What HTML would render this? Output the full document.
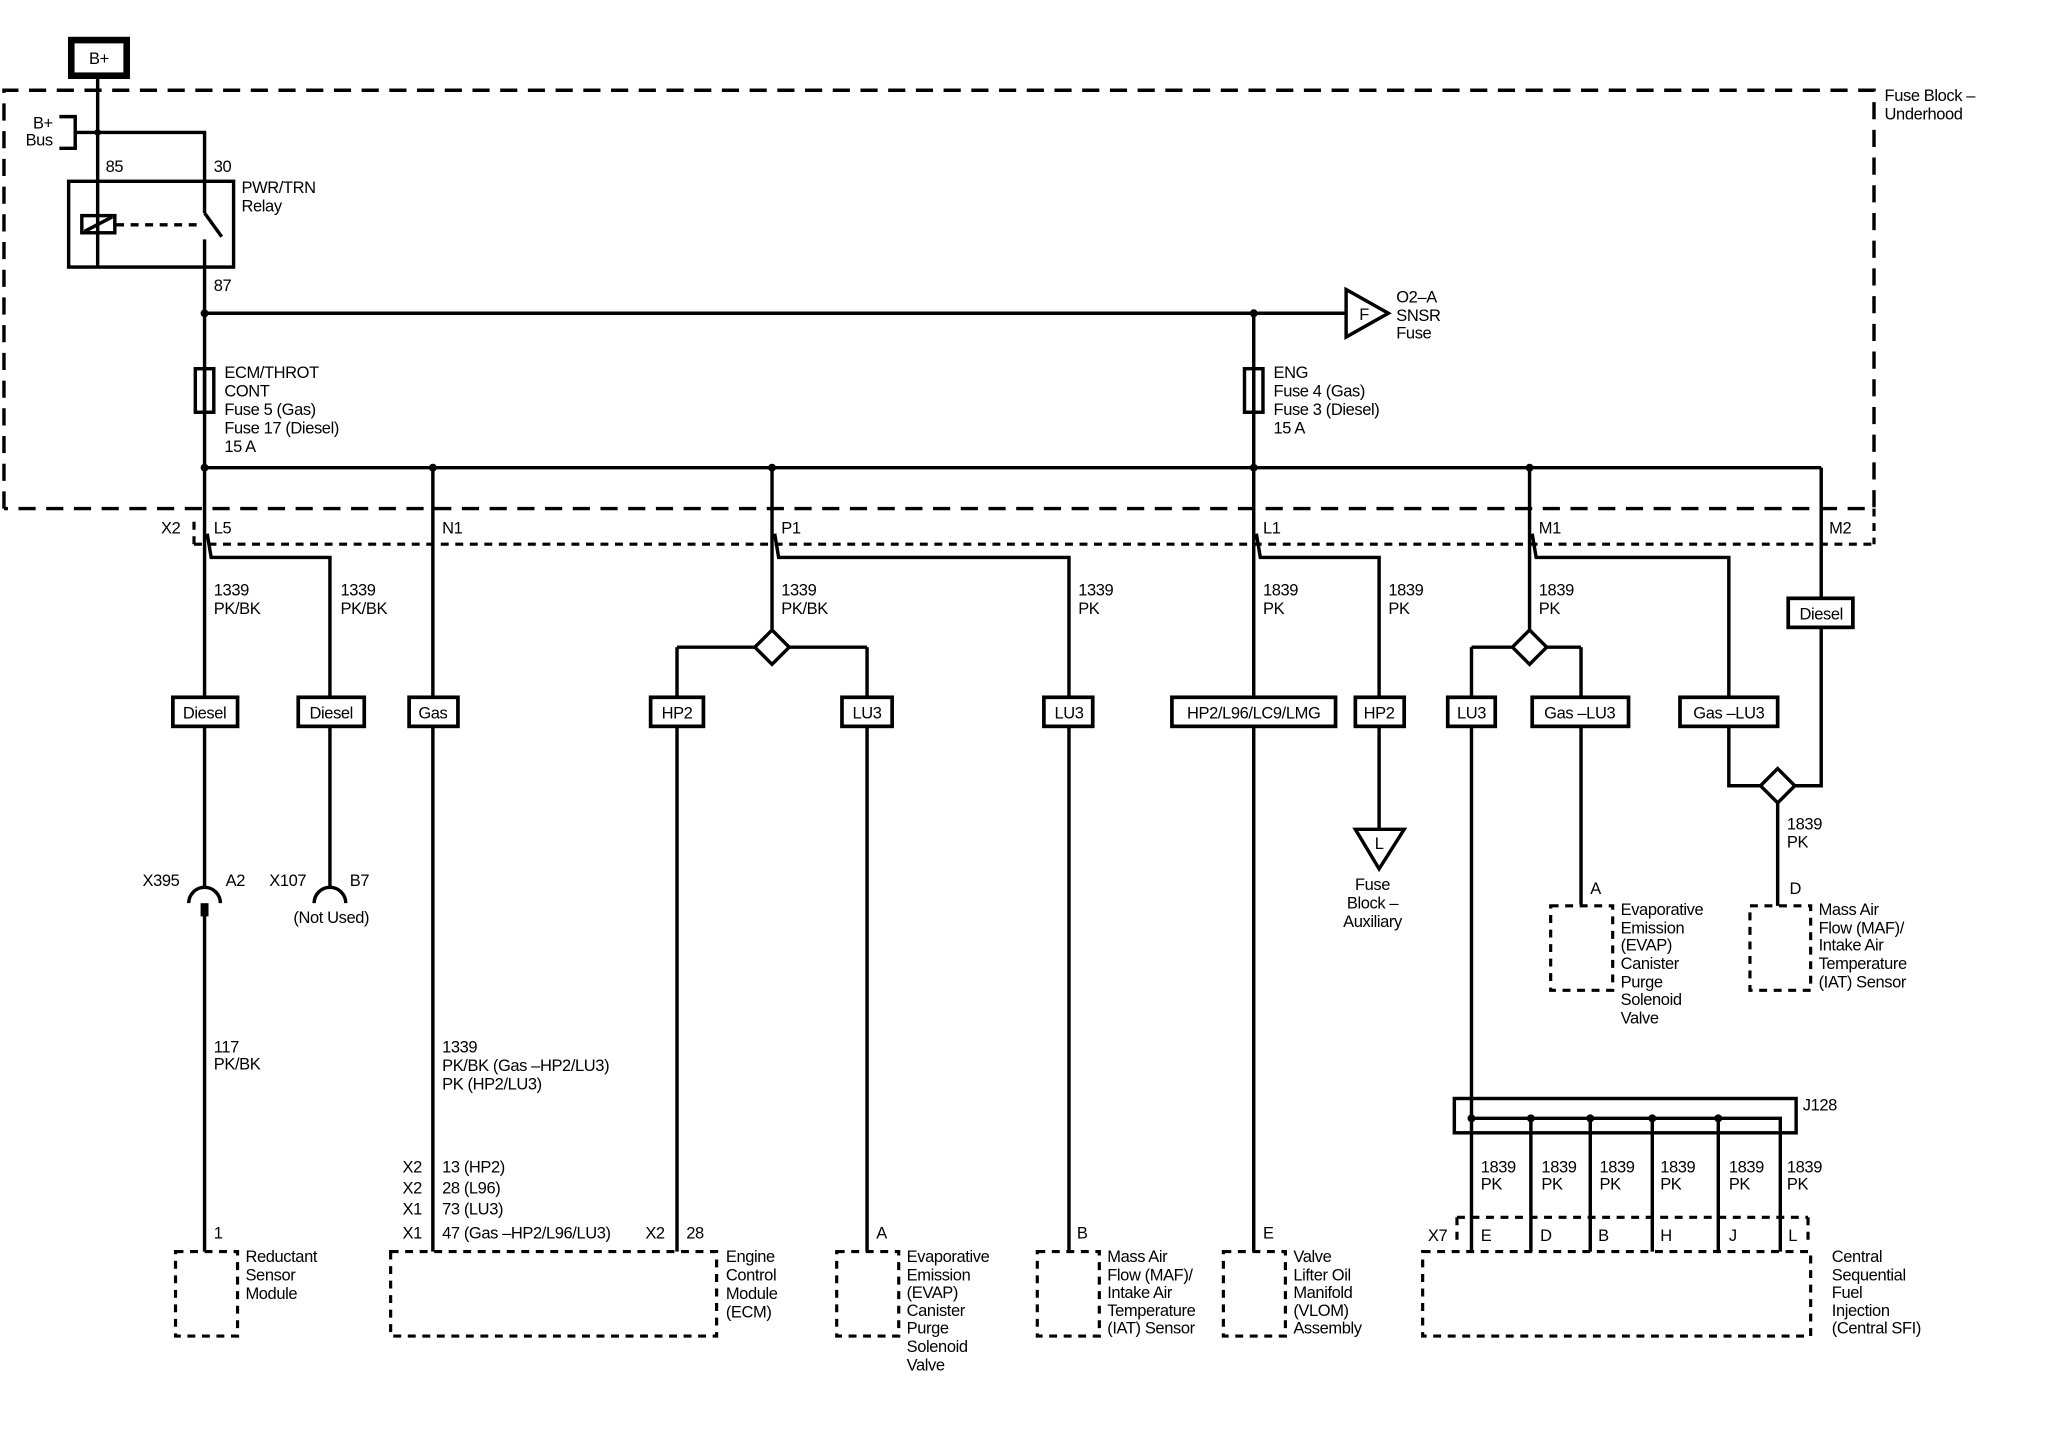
<!DOCTYPE html>
<html><head><meta charset="utf-8"><style>
html,body{margin:0;padding:0;background:#fff}
svg{display:block}
text{font-family:"Liberation Sans",sans-serif;font-size:12.5px;fill:#000;letter-spacing:-0.3px}
.w{stroke:#000;stroke-width:2.6;fill:none}
.d{stroke:#000;stroke-width:2.6;fill:none;stroke-dasharray:13 8}
.ds{stroke:#000;stroke-width:2.4;fill:none;stroke-dasharray:6 5}
.b{stroke:#000;stroke-width:2.8;fill:#fff}
</style></head><body>
<svg width="2068" height="1454" viewBox="0 0 1567 1101" xmlns="http://www.w3.org/2000/svg">
<rect x="54" y="30" width="42" height="27" fill="#fff" stroke="#000" stroke-width="5"/>
<text x="75" y="48" text-anchor="middle">B+</text>
<path class="d" d="M3 385 V68 H1420 V385 H3"/>
<text x="1428" y="76">Fuse Block –</text><text x="1428" y="90">Underhood</text>
<path class="w" d="M45 88 H57 V112 H45"/>
<text x="40" y="97" text-anchor="end">B+</text><text x="40" y="110" text-anchor="end">Bus</text>
<path class="w" d="M74 57 V202 M57 100 H155 V161 M155 161 L168 179 M155 181 V354"/>
<circle cx="74" cy="100" r="2.5"/>
<rect class="w" x="52" y="137" width="125" height="65"/>
<rect class="w" x="62" y="163" width="25" height="13" fill="#fff"/>
<path class="w" d="M64 175 L85 164"/>
<path class="w" stroke-dasharray="6 5" d="M88 170 H153"/>
<text x="80" y="130">85</text><text x="162" y="130">30</text>
<text x="183" y="146">PWR/TRN</text><text x="183" y="160">Relay</text>
<text x="162" y="220">87</text>
<path class="w" d="M155 237 H1020"/>
<circle cx="155" cy="237" r="3"/><circle cx="950" cy="237" r="3"/>
<path class="w" fill="#fff" d="M1020 219 L1052 237 L1020 255 Z"/>
<text x="1030" y="242" font-size="12">F</text>
<text x="1058" y="229">O2–A</text><text x="1058" y="243">SNSR</text><text x="1058" y="256">Fuse</text>
<path class="w" d="M950 237 V354"/>
<rect class="w" x="148" y="279" width="14" height="33" fill="#fff"/><path class="w" d="M155 279 V312"/>
<rect class="w" x="943" y="279" width="14" height="33" fill="#fff"/><path class="w" d="M950 279 V312"/>
<text x="170" y="286">ECM/THROT</text><text x="170" y="300">CONT</text><text x="170" y="314">Fuse 5 (Gas)</text><text x="170" y="328">Fuse 17 (Diesel)</text><text x="170" y="342">15 A</text>
<text x="965" y="286">ENG</text><text x="965" y="300">Fuse 4 (Gas)</text><text x="965" y="314">Fuse 3 (Diesel)</text><text x="965" y="328">15 A</text>
<path class="w" d="M155 354 H1380"/>
<circle cx="155" cy="354" r="3"/><circle cx="328" cy="354" r="3"/><circle cx="585" cy="354" r="3"/><circle cx="950" cy="354" r="3"/><circle cx="1159" cy="354" r="3"/>
<path class="ds" d="M147 412 H1420 M1420 385 V412 M147 395 V412"/>
<text x="122" y="404">X2</text>
<text x="162" y="404">L5</text><text x="335" y="404">N1</text><text x="592" y="404">P1</text><text x="957" y="404">L1</text><text x="1166" y="404">M1</text><text x="1386" y="404">M2</text>
<path class="w" d="M155 354 V672 M157 404 L160 422 H250 V672 M155 692 V948"/>
<text x="162" y="451">1339</text><text x="162" y="465">PK/BK</text>
<text x="258" y="451">1339</text><text x="258" y="465">PK/BK</text>
<rect class="b" x="131" y="528" width="49" height="22"/><text x="155" y="544" text-anchor="middle">Diesel</text>
<rect class="b" x="226" y="528" width="50" height="22"/><text x="251" y="544" text-anchor="middle">Diesel</text>
<path class="w" d="M143 684 A12 12 0 0 1 167 684"/><rect x="152" y="684" width="6" height="10"/>
<path class="w" d="M238 684 A12 12 0 0 1 262 684"/>
<text x="108" y="671">X395</text><text x="171" y="671">A2</text>
<text x="204" y="671">X107</text><text x="265" y="671">B7</text>
<text x="251" y="699" text-anchor="middle">(Not Used)</text>
<text x="162" y="797">117</text><text x="162" y="810">PK/BK</text>
<text x="162" y="938">1</text>
<rect class="ds" x="133" y="948" width="47" height="64"/>
<text x="186" y="956">Reductant</text><text x="186" y="970">Sensor</text><text x="186" y="984">Module</text>
<path class="w" d="M328 354 V948"/>
<rect class="b" x="310" y="528" width="37" height="22"/><text x="328" y="544" text-anchor="middle">Gas</text>
<text x="335" y="797">1339</text><text x="335" y="811">PK/BK (Gas –HP2/LU3)</text><text x="335" y="825">PK (HP2/LU3)</text>
<text x="305" y="888">X2</text><text x="335" y="888">13 (HP2)</text>
<text x="305" y="904">X2</text><text x="335" y="904">28 (L96)</text>
<text x="305" y="920">X1</text><text x="335" y="920">73 (LU3)</text>
<text x="305" y="938">X1</text><text x="335" y="938">47 (Gas –HP2/L96/LU3)</text>
<text x="489" y="938">X2</text><text x="520" y="938">28</text>
<rect class="ds" x="296" y="948" width="247" height="64"/>
<text x="550" y="956">Engine</text><text x="550" y="970">Control</text><text x="550" y="984">Module</text><text x="550" y="998">(ECM)</text>
<path class="w" d="M585 354 V478 M587 404 L590 422 H810 V948 M513 490 H573 M597 490 H657 M513 490 V948 M657 490 V948"/>
<path class="w" fill="#fff" d="M585 477 L598 490 L585 503 L572 490 Z"/>
<text x="592" y="451">1339</text><text x="592" y="465">PK/BK</text>
<text x="817" y="451">1339</text><text x="817" y="465">PK</text>
<rect class="b" x="493" y="528" width="40" height="22"/><text x="513" y="544" text-anchor="middle">HP2</text>
<rect class="b" x="638" y="528" width="38" height="22"/><text x="657" y="544" text-anchor="middle">LU3</text>
<rect class="b" x="791" y="528" width="37" height="22"/><text x="810" y="544" text-anchor="middle">LU3</text>
<text x="664" y="938">A</text>
<rect class="ds" x="634" y="948" width="47" height="64"/>
<text x="687" y="956">Evaporative</text><text x="687" y="970">Emission</text><text x="687" y="983">(EVAP)</text><text x="687" y="997">Canister</text><text x="687" y="1010">Purge</text><text x="687" y="1024">Solenoid</text><text x="687" y="1038">Valve</text>
<text x="816" y="938">B</text>
<rect class="ds" x="786" y="948" width="47" height="64"/>
<text x="839" y="956">Mass Air</text><text x="839" y="970">Flow (MAF)/</text><text x="839" y="983">Intake Air</text><text x="839" y="997">Temperature</text><text x="839" y="1010">(IAT) Sensor</text>
<path class="w" d="M950 354 V948 M952 404 L955 422 H1045 V628"/>
<text x="957" y="451">1839</text><text x="957" y="465">PK</text>
<text x="1052" y="451">1839</text><text x="1052" y="465">PK</text>
<rect class="b" x="888" y="528" width="124" height="22"/><text x="950" y="544" text-anchor="middle">HP2/L96/LC9/LMG</text>
<rect class="b" x="1027" y="528" width="37" height="22"/><text x="1045" y="544" text-anchor="middle">HP2</text>
<path class="w" fill="#fff" d="M1027 628 H1064 L1045 658 Z"/><text x="1045" y="643" text-anchor="middle" font-size="12">L</text>
<text x="1040" y="674" text-anchor="middle">Fuse</text><text x="1040" y="688" text-anchor="middle">Block –</text><text x="1040" y="702" text-anchor="middle">Auxiliary</text>
<text x="957" y="938">E</text>
<rect class="ds" x="927" y="948" width="47" height="64"/>
<text x="980" y="956">Valve</text><text x="980" y="970">Lifter Oil</text><text x="980" y="983">Manifold</text><text x="980" y="997">(VLOM)</text><text x="980" y="1010">Assembly</text>
<path class="w" d="M1159 354 V478 M1161 404 L1164 422 H1310 V595 H1334 M1115 490 H1147 M1171 490 H1198 M1115 490 V948 M1198 490 V685"/>
<path class="w" fill="#fff" d="M1159 477 L1172 490 L1159 503 L1146 490 Z"/>
<text x="1166" y="451">1839</text><text x="1166" y="465">PK</text>
<rect class="b" x="1097" y="528" width="36" height="22"/><text x="1115" y="544" text-anchor="middle">LU3</text>
<rect class="b" x="1161" y="528" width="73" height="22"/><text x="1197" y="544" text-anchor="middle">Gas –LU3</text>
<rect class="b" x="1273" y="528" width="74" height="22"/><text x="1310" y="544" text-anchor="middle">Gas –LU3</text>
<text x="1205" y="677">A</text>
<rect class="ds" x="1175" y="686" width="47" height="64"/>
<text x="1228" y="693">Evaporative</text><text x="1228" y="707">Emission</text><text x="1228" y="720">(EVAP)</text><text x="1228" y="734">Canister</text><text x="1228" y="748">Purge</text><text x="1228" y="761">Solenoid</text><text x="1228" y="775">Valve</text>
<path class="w" d="M1380 354 V595 H1360 M1347 608 V686"/>
<path class="w" fill="#fff" d="M1347 582 L1360 595 L1347 608 L1334 595 Z"/>
<rect class="b" x="1355" y="453" width="49" height="22"/><text x="1380" y="469" text-anchor="middle">Diesel</text>
<text x="1354" y="628">1839</text><text x="1354" y="642">PK</text>
<text x="1356" y="677">D</text>
<rect class="ds" x="1326" y="686" width="46" height="64"/>
<text x="1378" y="693">Mass Air</text><text x="1378" y="707">Flow (MAF)/</text><text x="1378" y="720">Intake Air</text><text x="1378" y="734">Temperature</text><text x="1378" y="748">(IAT) Sensor</text>
<rect class="w" x="1102" y="832" width="259" height="26"/>
<text x="1366" y="841">J128</text>
<path class="w" d="M1115 847 H1349 V948 M1160 847 V948 M1205 847 V948 M1252 847 V948 M1302 847 V948"/>
<circle cx="1115" cy="847" r="3"/><circle cx="1160" cy="847" r="3"/><circle cx="1205" cy="847" r="3"/><circle cx="1252" cy="847" r="3"/><circle cx="1302" cy="847" r="3"/>
<text x="1122" y="888">1839</text><text x="1122" y="901">PK</text>
<text x="1168" y="888">1839</text><text x="1168" y="901">PK</text>
<text x="1212" y="888">1839</text><text x="1212" y="901">PK</text>
<text x="1258" y="888">1839</text><text x="1258" y="901">PK</text>
<text x="1310" y="888">1839</text><text x="1310" y="901">PK</text>
<text x="1354" y="888">1839</text><text x="1354" y="901">PK</text>
<path class="ds" d="M1104 922 H1370 M1104 922 V940 M1370 922 V940"/>
<text x="1082" y="940">X7</text>
<text x="1122" y="940">E</text><text x="1167" y="940">D</text><text x="1211" y="940">B</text><text x="1258" y="940">H</text><text x="1310" y="940">J</text><text x="1355" y="940">L</text>
<rect class="ds" x="1078" y="948" width="294" height="64"/>
<text x="1388" y="956">Central</text><text x="1388" y="970">Sequential</text><text x="1388" y="983">Fuel</text><text x="1388" y="997">Injection</text><text x="1388" y="1010">(Central SFI)</text>
</svg>
</body></html>
